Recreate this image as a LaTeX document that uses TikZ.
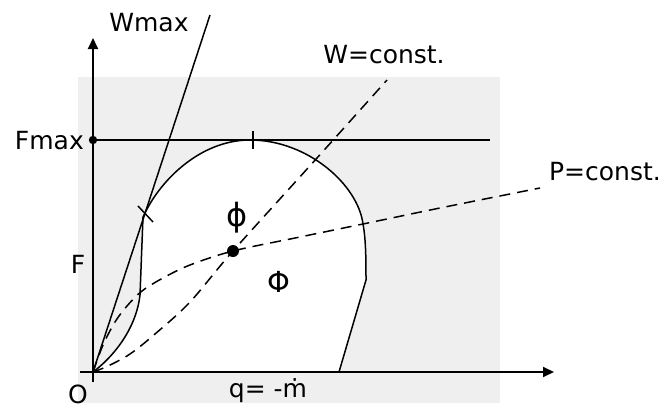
\documentclass[tikz,border=0pt]{standalone}
\usepackage{fontspec}
\setmainfont{DejaVu Sans}
\usetikzlibrary{arrows.meta}
\definecolor{panel}{HTML}{EFEFEF}
\begin{document}
\begin{tikzpicture}[x=1pt,y=-1pt,
  lbl/.style={inner sep=0pt,font=\fontsize{25}{29}\selectfont},
  axis/.style={line width=2pt,-{Triangle[length=11pt,width=10pt]}},
  curveline/.style={line width=1.5pt},
  dashline/.style={line width=1.5pt,dash pattern=on 11pt off 7pt},
  tickmark/.style={line width=1.5pt}]
\useasboundingbox (0,0) rectangle (665,410);
\fill[panel] (78,77) rectangle (500,403);
% named points
\coordinate (O) at (93,372);
\coordinate (Ytop) at (93,38);
\coordinate (Ybot) at (93,382);
\coordinate (Xleft) at (80,372);
\coordinate (Xtip) at (554,372);
\coordinate (Fm) at (93,140);
\coordinate (FmEnd) at (490,140);
\coordinate (WmEnd) at (210,15);
\coordinate (T) at (145,213);
\coordinate (Top) at (250,140);
\coordinate (R) at (363,224);
\coordinate (Bot) at (339,372);
\coordinate (D) at (233,251);
% region boundary (white inside)
\filldraw[fill=white,curveline]
  (O) .. controls (112,358) and (136,330) .. (140,295)
  -- (143,217) -- (T)
  .. controls (162,178) and (202,140) .. (Top)
  .. controls (308,140) and (358,185) .. (R)
  .. controls (366,240) and (366,262) .. (366,280)
  -- (Bot) -- cycle;
% Fmax line
\draw[line width=1.6pt] (Fm) -- (FmEnd);
% Wmax line
\draw[curveline] (O) -- (WmEnd);
% W = const curve
\draw[dashline] plot[smooth,tension=0.55] coordinates
  {(93,372) (108,366) (130,354) (155,334) (190,302) (233,251) (317,158) (387,80)};
% P = const curve
\draw[dashline] plot[smooth,tension=0.55] coordinates
  {(93,372) (103,345) (115,322) (127,306) (142,291) (163,278) (190,265) (233,251) (300,237) (363,224) (440,208) (540,188)};
% axes
\draw[axis] (Ybot) -- (Ytop);
\draw[axis] (Xleft) -- (Xtip);
% marks
\draw[tickmark] (138,206) -- (153,222);
\draw[tickmark] (253,131) -- (253,149);
\fill (Fm) circle (4.2pt);
\fill (D) circle (6pt);
% labels
\node[lbl,anchor=base] (lWmax) at (149,31) {Wmax};
\node[lbl,anchor=base] (lW) at (384,63) {W=const.};
\node[lbl,anchor=base] (lP) at (605,180) {P=const.};
\node[lbl,anchor=base east] (lFmax) at (84,149) {Fmax};
\node[lbl,anchor=base] (lF) at (78,273) {F};
\node[lbl,anchor=base] (lO) at (78,403) {O};
\node[lbl,anchor=base] (lq) at (268,397) {q= -ṁ};
\node[lbl,font=\fontsize{32}{34}\selectfont] (lphi) at (237,218) {ϕ};
\node[lbl,font=\fontsize{29}{32}\selectfont] (lPhi) at (279,282) {Φ};
\end{tikzpicture}
\end{document}
